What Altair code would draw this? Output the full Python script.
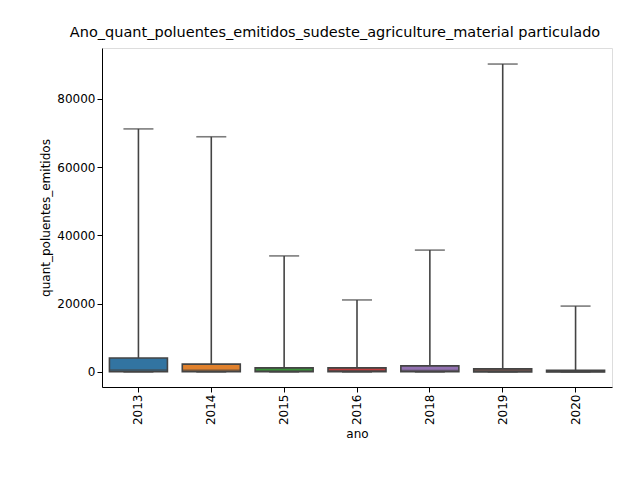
import altair as alt
import pandas as pd

anos = ["2013", "2014", "2015", "2016", "2018", "2019", "2020"]
minimo = [0, 0, 0, 0, 0, 0, 0]
q1 = [100, 80, 50, 60, 80, 40, 30]
mediana = [600, 500, 300, 350, 450, 250, 150]
q3 = [4100, 2300, 1200, 1200, 1800, 900, 500]
maximo = [71200, 68900, 34000, 21100, 35700, 90200, 19300]
cores = ["#3274a1", "#e1812c", "#3a923a", "#c03d3e", "#9372b2", "#845b53", "#d684bd"]

df = pd.DataFrame({"ano": anos, "min": minimo, "q1": q1, "med": mediana, "q3": q3, "max": maximo})

eixo = dict(grid=False, labelFontSize=12, titleFontSize=12, labelColor="black", titleColor="black",
            domainColor="black", tickColor="black", titleFontWeight="normal")
x = alt.X("ano:N", title="ano", axis=alt.Axis(labelAngle=270, **eixo))
yscale = alt.Scale(domain=[-4400, 94900], nice=False, zero=False)
yaxis = alt.Axis(values=[0, 20000, 40000, 60000, 80000], format="d", **eixo)
base = alt.Chart(df)
LINE = "#444444"

whisker_lo = base.mark_rule(color=LINE, strokeWidth=1.6).encode(x=x, y=alt.Y("min:Q", scale=yscale, axis=yaxis, title="quant_poluentes_emitidos"), y2="q1:Q")
whisker_hi = base.mark_rule(color=LINE, strokeWidth=1.6).encode(x=x, y="q3:Q", y2="max:Q")
box = base.mark_bar(size=58, stroke=LINE, strokeWidth=1.6).encode(
    x=x, y="q1:Q", y2="q3:Q",
    color=alt.Color("ano:N", scale=alt.Scale(domain=anos, range=cores), legend=None),
)
med = base.mark_tick(size=58, color=LINE, thickness=1.6).encode(x=x, y="med:Q")
cap_hi = base.mark_tick(size=30, color=LINE, thickness=1.6).encode(x=x, y="max:Q")
cap_lo = base.mark_tick(size=30, color=LINE, thickness=1.6).encode(x=x, y="min:Q")

chart = (
    alt.layer(whisker_lo, whisker_hi, box, med, cap_hi, cap_lo)
    .properties(
        width=510, height=339,
        title=alt.Title("Ano_quant_poluentes_emitidos_sudeste_agriculture_material particulado", fontSize=14.5, fontWeight="normal", color="black", anchor="middle", offset=8, dx=-22),
        autosize="none",
        padding={"left": 94, "top": 40, "right": 20, "bottom": 85},
    )
    .configure_view(stroke="black", strokeWidth=1)
    .configure(font="DejaVu Sans")
)

chart.save("out.html", embed_options={"renderer": "svg", "actions": False})
